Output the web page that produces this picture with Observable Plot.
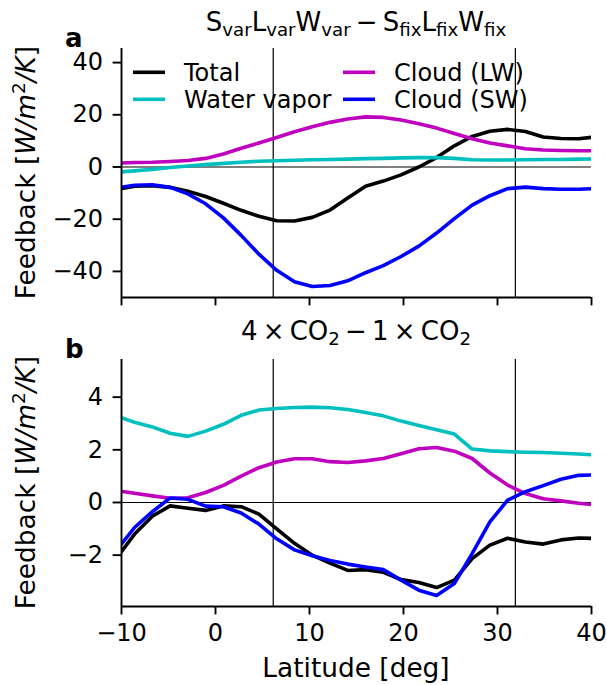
<!DOCTYPE html>
<html>
<head>
<meta charset="utf-8">
<script src="https://cdn.jsdelivr.net/npm/d3@7"></script>
<script src="https://cdn.jsdelivr.net/npm/@observablehq/plot@0.6"></script>
<style>
  html, body { margin: 0; padding: 0; background: #fff; }
  #chart { position: relative; width: 607px; height: 685px; overflow: hidden; font-family: "DejaVu Sans", sans-serif; }
  #chart > .panel { position: absolute; left: 0; }
  #overlay { position: absolute; left: 0; top: 0; pointer-events: none; }
</style>
</head>
<body>
<div id="chart"></div>
<script>
// ---- data ----
const lat = [-10.5, -8.61, -6.72, -4.83, -2.94, -1.05, 0.84, 2.73, 4.62, 6.51, 8.40, 10.29, 12.18, 14.07,
             15.96, 17.85, 19.74, 21.63, 23.52, 25.41, 27.30, 29.19, 31.08, 32.97, 34.86, 36.75, 38.64, 40.53];

// panel a: SvarLvarWvar - SfixLfixWfix
const totalA = [-8.6, -7.4, -7.2, -7.8, -9.3, -11.3, -13.9, -16.6, -18.9, -20.6, -20.7, -19.3, -16.5, -11.9,
                -7.4, -5.4, -3.0, 0.0, 3.6, 8.1, 11.7, 13.7, 14.4, 13.6, 11.5, 10.9, 10.8, 11.6];
const wvA    = [-2.0, -1.5, -0.9, -0.2, 0.4, 0.9, 1.4, 1.8, 2.2, 2.4, 2.6, 2.8, 2.9, 3.0,
                3.2, 3.3, 3.5, 3.6, 3.6, 3.3, 2.8, 2.7, 2.7, 2.8, 2.9, 2.9, 3.0, 3.1];
const lwA    = [1.5, 1.7, 1.8, 2.1, 2.5, 3.3, 5.0, 7.2, 9.2, 11.3, 13.5, 15.4, 17.1, 18.4,
                19.2, 19.0, 18.0, 16.6, 14.9, 12.8, 10.8, 9.2, 8.1, 7.0, 6.5, 6.3, 6.2, 6.2];
const swA    = [-8.0, -7.0, -6.8, -7.8, -10.3, -14.1, -19.5, -26.2, -33.4, -39.6, -44.0, -45.8, -45.4, -43.6,
                -40.5, -37.8, -34.3, -30.3, -25.3, -19.8, -14.6, -11.0, -8.3, -7.7, -8.3, -8.5, -8.5, -8.3];

// panel b: 4xCO2 - 1xCO2
const totalB = [-2.1, -1.2, -0.52, -0.13, -0.22, -0.3, -0.13, -0.16, -0.44, -1.0, -1.55, -2.0, -2.3, -2.58,
                -2.55, -2.65, -2.93, -3.04, -3.23, -2.95, -2.13, -1.62, -1.36, -1.5, -1.58, -1.42, -1.35, -1.37];
const wvB    = [3.28, 3.05, 2.87, 2.63, 2.51, 2.71, 2.97, 3.31, 3.51, 3.57, 3.61, 3.62, 3.6, 3.53,
                3.42, 3.29, 3.09, 2.92, 2.76, 2.6, 2.03, 1.96, 1.93, 1.91, 1.9, 1.87, 1.84, 1.8];
const lwB    = [0.45, 0.35, 0.25, 0.16, 0.18, 0.38, 0.65, 1.0, 1.32, 1.54, 1.66, 1.66, 1.55, 1.52,
                1.58, 1.67, 1.85, 2.04, 2.09, 1.95, 1.67, 1.12, 0.66, 0.34, 0.14, 0.06, -0.03, -0.1];
const swB    = [-1.8, -0.95, -0.35, 0.17, 0.12, -0.14, -0.16, -0.4, -0.82, -1.38, -1.8, -2.02, -2.2, -2.34,
                -2.45, -2.55, -2.95, -3.33, -3.53, -3.08, -1.94, -0.74, 0.09, 0.41, 0.64, 0.88, 1.03, 1.05];

const seriesNames  = ["Total", "Water vapor", "Cloud (LW)", "Cloud (SW)"];
const seriesColors = ["#000000", "#00bfbf", "#bf00bf", "#0000ff"];
const boundaries = [6.14, 31.9];
const xDomain = [-10, 40];
const xTicks = [-10, 0, 10, 20, 30, 40];
const yDomainA = [-50, 45.4];
const yTicksA = [-40, -20, 0, 20, 40];
const yDomainB = [-3.95, 5.43];
const yTicksB = [-2, 0, 2, 4];

// ---- drawing ----
function panel(valuesList, yDomain, yTicks, opts) {
  const lines = valuesList.map((vals, k) =>
    Plot.line(lat.map((x, i) => ({x, y: vals[i]})), {
      x: "x", y: "y", stroke: seriesColors[k], strokeWidth: 3.6,
      strokeLinejoin: "round", clip: true
    }));
  return Plot.plot({
    width: 607, height: opts.height,
    marginTop: opts.marginTop, marginBottom: opts.marginBottom, marginLeft: 121, marginRight: 16,
    style: {fontFamily: "DejaVu Sans, sans-serif", fontSize: "24px", color: "black", background: "transparent", overflow: "visible"},
    x: {domain: xDomain},
    y: {domain: yDomain},
    marks: [
      Plot.ruleY([0], {stroke: "black", strokeWidth: 1.2}),
      Plot.ruleX(boundaries, {stroke: "black", strokeWidth: 1.2}),
      ...lines,
      Plot.axisY({ticks: yTicks, tickSize: 8.4, tickPadding: 10, strokeWidth: 1.9, label: null}),
      Plot.axisX({ticks: xTicks, tickSize: 8.4, tickPadding: 9, strokeWidth: 1.9, label: null,
                  tickFormat: opts.showX ? undefined : () => ""}),
      Plot.ruleX([xDomain[0]], {stroke: "black", strokeWidth: 1.9}),
      Plot.ruleY([yDomain[0]], {stroke: "black", strokeWidth: 1.9})
    ]
  });
}

const chart = document.getElementById("chart");
const pa = panel([totalA, wvA, lwA, swA], yDomainA, yTicksA, {height: 310, marginTop: 48, marginBottom: 13, showX: false});
pa.classList.add("panel"); pa.style.top = "0px";
const pb = panel([totalB, wvB, lwB, swB], yDomainB, yTicksB, {height: 375, marginTop: 49, marginBottom: 79, showX: true});
pb.classList.add("panel"); pb.style.top = "310px";
chart.appendChild(pa);
chart.appendChild(pb);

// ---- text overlay: titles, panel letters, axis labels, legend ----
const NS = "http://www.w3.org/2000/svg";
const ov = document.createElementNS(NS, "svg");
ov.setAttribute("id", "overlay");
ov.setAttribute("width", 607); ov.setAttribute("height", 685);
ov.setAttribute("font-family", "DejaVu Sans, sans-serif");
const T = "\u2009";
ov.innerHTML = `
  <text x="356" y="31" text-anchor="middle" font-size="26">S<tspan font-size="18.2" dy="5">var</tspan><tspan dy="-5">L</tspan><tspan font-size="18.2" dy="5">var</tspan><tspan dy="-5">W</tspan><tspan font-size="18.2" dy="5">var</tspan><tspan dy="-5">${T}\u2212${T}S</tspan><tspan font-size="18.2" dy="5">fix</tspan><tspan dy="-5">L</tspan><tspan font-size="18.2" dy="5">fix</tspan><tspan dy="-5">W</tspan><tspan font-size="18.2" dy="5">fix</tspan></text>
  <text x="356" y="340" text-anchor="middle" font-size="26">4${T}\u00d7${T}CO<tspan font-size="18.2" dy="5">2</tspan><tspan dy="-5">${T}\u2212${T}1${T}\u00d7${T}CO</tspan><tspan font-size="18.2" dy="5">2</tspan></text>
  <text x="65" y="47" font-size="26" font-weight="bold">a</text>
  <text x="65" y="358" font-size="26" font-weight="bold">b</text>
  <text transform="translate(35,172.5) rotate(-90)" text-anchor="middle" font-size="26.4">Feedback [<tspan font-style="italic">W/m</tspan><tspan font-size="18.5" dy="-10">2</tspan><tspan font-style="italic" dy="10">/K</tspan>]</text>
  <text transform="translate(35,482.5) rotate(-90)" text-anchor="middle" font-size="26.4">Feedback [<tspan font-style="italic">W/m</tspan><tspan font-size="18.5" dy="-10">2</tspan><tspan font-style="italic" dy="10">/K</tspan>]</text>
  <text x="356" y="677" text-anchor="middle" font-size="26.4">Latitude [deg]</text>
`;
const legendPos = [[133, 72.3], [133, 99.3], [343, 72.3], [343, 99.3]];
seriesNames.forEach((name, k) => {
  const [lx, ly] = legendPos[k];
  const ln = document.createElementNS(NS, "line");
  ln.setAttribute("x1", lx); ln.setAttribute("x2", lx + 32);
  ln.setAttribute("y1", ly); ln.setAttribute("y2", ly);
  ln.setAttribute("stroke", seriesColors[k]); ln.setAttribute("stroke-width", 3.6);
  ov.appendChild(ln);
  const tx = document.createElementNS(NS, "text");
  tx.setAttribute("x", lx + 51); tx.setAttribute("y", ly + 8.8);
  tx.setAttribute("font-size", 24);
  tx.textContent = name;
  ov.appendChild(tx);
});
chart.appendChild(ov);
</script>
</body>
</html>
